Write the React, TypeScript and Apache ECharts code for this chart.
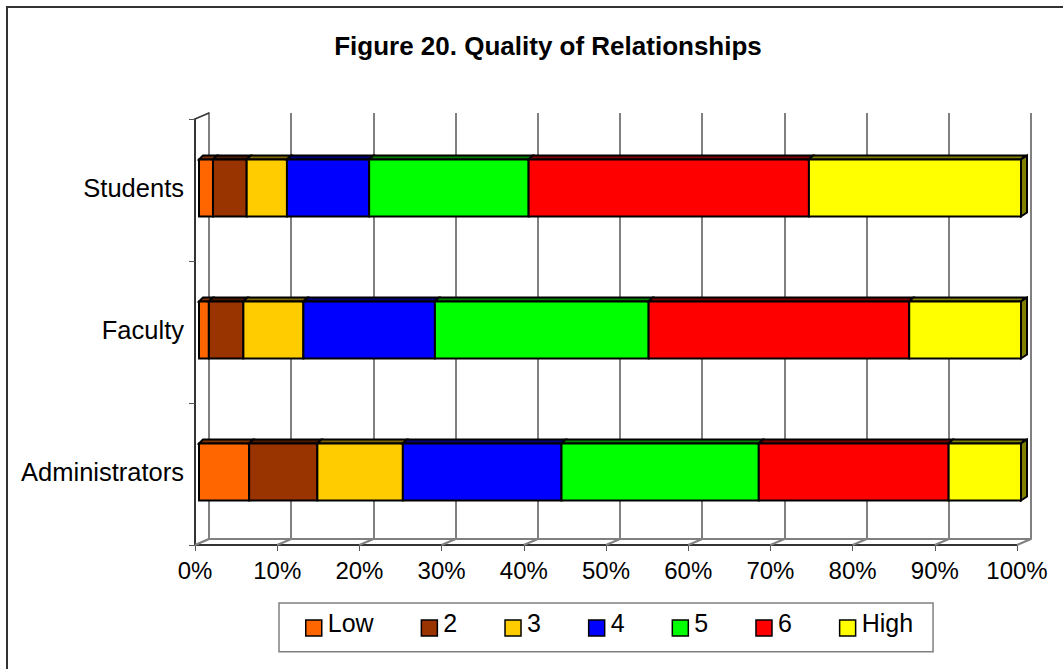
import React, { useEffect, useRef } from "react";
import * as echarts from "echarts";

const categories = ["Administrators", "Faculty", "Students"];
const seriesNames = ["Low", "2", "3", "4", "5", "6", "High"];
const colors = ["#FF6600", "#993300", "#FFCC00", "#0000FF", "#00FF00", "#FF0000", "#FFFF00"];
const topColors = ["#803300", "#4D1A00", "#806600", "#000080", "#008000", "#800000", "#808000"];
const low = [6.1, 1.2, 1.7];
const two = [8.3, 4.2, 4.1];
const three = [10.4, 7.3, 4.9];
const four = [19.3, 16.0, 10.0];
const five = [24.0, 26.0, 19.4];
const six = [23.1, 31.7, 34.1];
const high = [8.8, 13.6, 25.8];
const seriesValues = [low, two, three, four, five, six, high];
const xTicks = [0, 10, 20, 30, 40, 50, 60, 70, 80, 90, 100];
const yTicks = [0, 1, 2, 3];

const D = 4; // bar depth

function barSeries(index: number) {
  const data = seriesValues[index].map((v, c) => {
    let start = 0;
    for (let i = 0; i < index; i++) start += seriesValues[i][c];
    return [start, start + v, c];
  });
  return {
    type: "custom",
    name: seriesNames[index],
    xAxisIndex: 2,
    yAxisIndex: 2,
    z: 5,
    itemStyle: { color: colors[index] },
    encode: { x: [0, 1], y: 2 },
    data,
    renderItem: (_p: any, api: any) => {
      const a = api.coord([api.value(0), api.value(2)]);
      const b = api.coord([api.value(1), api.value(2)]);
      const h = 57;
      const x0 = a[0], x1 = b[0], yt = a[1] - h / 2, yb = a[1] + h / 2;
      const border = { stroke: "#000", lineWidth: 2, lineJoin: "miter" };
      const children: any[] = [
        {
          type: "polygon",
          shape: { points: [[x0, yt], [x0 + D, yt - D], [x1 + D, yt - D], [x1, yt]] },
          style: { fill: topColors[index], ...border },
        },
      ];
      if (index === seriesNames.length - 1) {
        children.push({
          type: "polygon",
          shape: { points: [[x1, yt], [x1 + D + 2, yt - D], [x1 + D + 2, yb - D], [x1, yb]] },
          style: { fill: topColors[index], ...border },
        });
      }
      children.push({
        type: "rect",
        shape: { x: x0, y: yt, width: x1 - x0, height: h },
        style: { fill: colors[index], ...border },
      });
      return { type: "group", children };
    },
  };
}

// Slanted joins between the front axes and the back wall
const floorSeries = {
  type: "custom",
  silent: true,
  xAxisIndex: 1,
  yAxisIndex: 1,
  z: 2,
  data: xTicks.map((t) => [t]),
  renderItem: (_p: any, api: any) => {
    const p = api.coord([api.value(0), 0]);
    return {
      type: "line",
      shape: { x1: p[0], y1: p[1], x2: p[0] + 14, y2: p[1] - 6 },
      style: { stroke: "#808080", lineWidth: 2 },
    };
  },
};
const wallSeries = {
  type: "custom",
  silent: true,
  xAxisIndex: 1,
  yAxisIndex: 1,
  z: 2,
  data: yTicks.map((t) => [0, t]),
  encode: { x: 0, y: 1 },
  renderItem: (_p: any, api: any) => {
    const p = api.coord([0, api.value(1)]);
    const top = api.value(1) === 3;
    const bottom = api.value(1) === 0;
    if (!top && !bottom) return { type: "group", children: [] };
    return {
      type: "line",
      shape: { x1: p[0], y1: p[1], x2: p[0] + 14, y2: p[1] - 6 },
      style: { stroke: top ? "#333" : "#808080", lineWidth: 1.5 },
    };
  },
};

export default function App() {
  const ref = useRef<HTMLDivElement>(null);
  useEffect(() => {
    document.body.style.margin = "0";
    const chart = echarts.init(ref.current!, undefined, { renderer: "svg" });
    const font = "Liberation Sans";
    const grids = [
      { left: 209, top: 113, width: 822, height: 426 },
      { left: 195, top: 119, width: 822, height: 426 },
      { left: 199, top: 117, width: 822, height: 426 },
    ];
    chart.setOption({
      animation: false,
      backgroundColor: "#fff",
      title: {
        text: "Figure 20. Quality of Relationships",
        left: 543,
        top: 28,
        textAlign: "center",
        textStyle: { fontFamily: font, fontSize: 26, fontWeight: "bold", color: "#000" },
      },
      graphic: [
        {
          type: "rect",
          silent: true,
          z: -1,
          shape: { x: 7, y: 7, width: 1100, height: 700 },
          style: { fill: "#fff", stroke: "#333", lineWidth: 2 },
        },
      ],
      legend: {
        show: true,
        data: seriesNames,
        left: 279,
        top: 603,
        orient: "horizontal",
        padding: [7, 20, 15, 26],
        itemGap: 47,
        itemWidth: 16,
        itemHeight: 16,
        borderColor: "#808080",
        borderWidth: 1.5,
        icon: "rect",
        selectedMode: false,
        itemStyle: { borderColor: "#000", borderWidth: 1.5 },
        formatter: "{t|{name}}",
        textStyle: {
          fontFamily: font,
          fontSize: 25,
          color: "#000",
          rich: {
            t: { fontFamily: font, fontSize: 25, color: "#000", padding: [0, 0, 11, 1] },
          },
        },
      },
      grid: grids,
      xAxis: [
        {
          gridIndex: 0, type: "value", min: 0, max: 100, interval: 10,
          axisLabel: { show: false }, axisTick: { show: false },
          axisLine: { show: true, lineStyle: { color: "#808080", width: 2 } },
          splitLine: { show: true, lineStyle: { color: "#808080", width: 2 } },
        },
        {
          gridIndex: 1, type: "value", min: 0, max: 100, interval: 10,
          axisLine: { show: true, lineStyle: { color: "#333", width: 2 } },
          axisTick: { show: true, length: 6, lineStyle: { color: "#555", width: 1 } },
          axisLabel: { formatter: "{value}%", margin: 13, fontFamily: font, fontSize: 24, color: "#000" },
          splitLine: { show: false },
        },
        {
          gridIndex: 2, type: "value", min: 0, max: 100, show: false,
        },
      ],
      yAxis: [
        {
          gridIndex: 0, type: "category", data: categories, show: true,
          position: "right",
          axisLabel: { show: false }, axisTick: { show: false },
          axisLine: { show: true, lineStyle: { color: "#808080", width: 2 } },
          splitLine: { show: false },
        },
        {
          gridIndex: 1, type: "value", min: 0, max: 3, interval: 1,
          axisLabel: { show: false },
          axisLine: { show: true, lineStyle: { color: "#333", width: 2 } },
          axisTick: { show: true, length: 6, lineStyle: { color: "#555", width: 1 } },
          splitLine: { show: false },
        },
        {
          gridIndex: 2, type: "category", data: categories,
          axisLine: { show: false }, axisTick: { show: false },
          axisLabel: { margin: 15, fontFamily: font, fontSize: 25.5, color: "#000" },
        },
      ],
      series: [floorSeries, wallSeries, ...seriesNames.map((_, i) => barSeries(i))],
    });
    return () => chart.dispose();
  }, []);
  return <div ref={ref} style={{ width: 1063, height: 669 }} />;
}
